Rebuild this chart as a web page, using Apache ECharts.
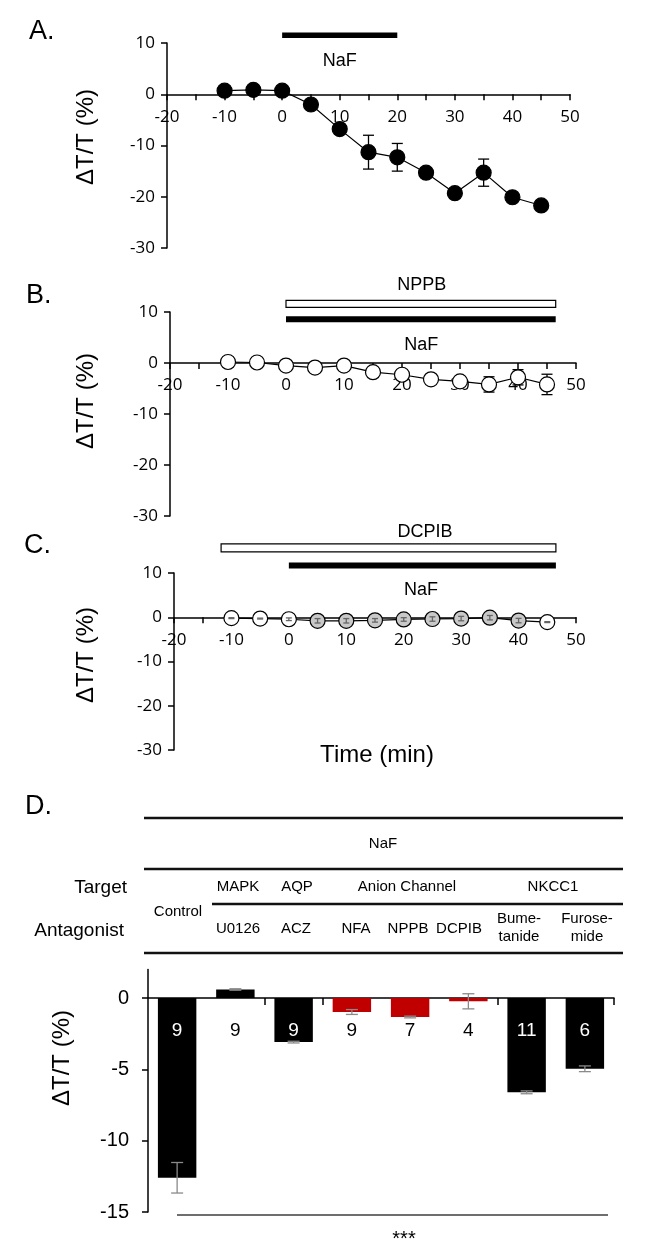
<!DOCTYPE html>
<html>
<head>
<meta charset="utf-8">
<script src="https://cdn.jsdelivr.net/npm/echarts@6/dist/echarts.min.js"></script>
<style>
html, body { margin: 0; padding: 0; background: #fff; }
#chart { width: 646px; height: 1251px; }
</style>
</head>
<body>
<div id="chart"></div>
<script>
/* ----------------- data ----------------- */
// time course (A, B, C)
const timeMin = [-10, -5, 0, 5, 10, 15, 20, 25, 30, 35, 40, 45]
const nafMean = [0.7, 0.85, 0.7, -2.0, -6.8, -11.3, -12.3, -15.3, -19.3, -15.3, -20.1, -21.7]
const nafErr = [0.2, 0.2, 0.2, 0.3, 0.4, 3.3, 2.7, 0.4, 0.4, 2.65, 0.4, 0.4]
const nppbMean = [0.2, 0.1, -0.5, -0.9, -0.5, -1.8, -2.3, -3.2, -3.6, -4.2, -2.8, -4.2]
const nppbErr = [0.2, 0.2, 0.3, 0.3, 0.3, 0.4, 0.4, 0.4, 0.6, 1.5, 1.5, 2.0]
const dcpibMean = [-0.2, -0.3, -0.45, -0.8, -0.8, -0.7, -0.5, -0.4, -0.3, -0.1, -0.75, -1.1]
const dcpibErr = [0.1, 0.1, 0.3, 0.5, 0.5, 0.4, 0.4, 0.5, 0.5, 0.5, 0.5, 0.1]

// drug application periods (min)
const nafPeriodA = [0, 20]
const nafPeriodLong = [0, 46.5]
const nppbPeriod = [0, 46.5]
const dcpibPeriod = [-11.8, 46.5]

// axis ranges / ticks
const timeTicks = [-20, 50, 5]
const pctTicks = [-30, 10, 10]
const barTicks = [-15, -10, -5, 0]

// summary (D)
const antagonists = ['Control', 'U0126', 'ACZ', 'NFA', 'NPPB', 'DCPIB', 'Bumetanide', 'Furosemide']
const deltaT = [-12.6, 0.6, -3.09, -0.98, -1.33, -0.23, -6.61, -4.96]
const deltaErr = [1.07, 0.05, 0.06, 0.17, 0.06, 0.53, 0.1, 0.2]
const nCells = [9, 9, 9, 9, 7, 4, 11, 6]

/* ----------------- styles ----------------- */
const barColors = ['#000', '#000', '#000', '#c00000', '#c00000', '#c00000', '#000', '#000']
const dcpibFill = ['#fff', '#fff', '#fff', '#c8c8c8', '#c8c8c8', '#c8c8c8', '#c8c8c8', '#c8c8c8', '#c8c8c8', '#c8c8c8', '#c8c8c8', '#fff']
const ARIAL = '"Liberation Sans", Arial, sans-serif'
const TICKF = '"Open Sans", sans-serif'
const nLabelY = -2.3

const grids = [
  { left: 167, top: 43, width: 403, height: 205 },
  { left: 170, top: 312, width: 406, height: 204 },
  { left: 174, top: 573, width: 402, height: 177 },
  { left: 148, top: 969.5, width: 466, height: 242.5 }
]

const chart = echarts.init(document.getElementById('chart'), null, { renderer: 'canvas' })

// 时间轴 (x axis sits on y = 0, labels follow it)
const timeAxis = (gi) => ({
  type: 'value', gridIndex: gi, position: 'bottom',
  offset: -grids[gi].height * (0 - pctTicks[0]) / (pctTicks[1] - pctTicks[0]),
  min: timeTicks[0], max: timeTicks[1], interval: timeTicks[2],
  axisLine: { show: true, onZero: false, lineStyle: { color: '#000', width: 1.5 } },
  axisTick: { show: true, inside: false, length: 6, lineStyle: { color: '#000', width: 1.5 } },
  axisLabel: {
    show: true, color: '#000', fontSize: 17, fontFamily: TICKF, margin: 14,
    formatter: (v) => (v % 10 === 0 ? String(v) : '')
  },
  splitLine: { show: false }
})
const pctAxis = (gi) => ({
  type: 'value', gridIndex: gi,
  min: pctTicks[0], max: pctTicks[1], interval: pctTicks[2],
  axisLine: { show: true, onZero: false, lineStyle: { color: '#000', width: 1.5 } },
  axisTick: { show: true, inside: false, length: 6, lineStyle: { color: '#000', width: 1.5 } },
  axisLabel: { color: '#000', fontSize: 17, fontFamily: TICKF, margin: 12 },
  splitLine: { show: false }
})

const lineSeries = (gi, ys, fills) => ({
  type: 'line', xAxisIndex: gi, yAxisIndex: gi, z: 3,
  data: timeMin.map((t, i) => ({ value: [t, ys[i]], itemStyle: { color: fills[i] } })),
  symbol: 'circle', symbolSize: 15,
  lineStyle: { color: '#000', width: 1.2 },
  itemStyle: { borderColor: '#000', borderWidth: 1.2 },
  emphasis: { disabled: true }
})

// 误差线
const errSeries = (gi, xs, ys, es, color, cap, z) => ({
  type: 'custom', xAxisIndex: gi, yAxisIndex: gi, z: z, clip: false, silent: true,
  data: xs.map((x, i) => [x, ys[i], es[i]]),
  renderItem: (params, api) => {
    const x = api.value(0), y = api.value(1), e = api.value(2)
    const hi = api.coord([x, y + e]), lo = api.coord([x, y - e])
    const st = { stroke: color, lineWidth: 1.3 }
    return {
      type: 'group', children: [
        { type: 'line', shape: { x1: hi[0], y1: hi[1], x2: lo[0], y2: lo[1] }, style: st },
        { type: 'line', shape: { x1: hi[0] - cap, y1: hi[1], x2: hi[0] + cap, y2: hi[1] }, style: st },
        { type: 'line', shape: { x1: lo[0] - cap, y1: lo[1], x2: lo[0] + cap, y2: lo[1] }, style: st }
      ]
    }
  }
})

// 给药时段横条
const periodSeries = (gi, period, yv, filled, h) => ({
  type: 'custom', xAxisIndex: gi, yAxisIndex: gi, z: 5, clip: false, silent: true,
  data: [period],
  renderItem: (params, api) => {
    const p0 = api.coord([api.value(0), yv])
    const p1 = api.coord([api.value(1), yv])
    return {
      type: 'rect',
      shape: { x: p0[0], y: p0[1] - h / 2, width: p1[0] - p0[0], height: h },
      style: { fill: filled ? '#000' : '#fff', stroke: '#000', lineWidth: filled ? 0 : 1.2 }
    }
  }
})

const textSeries = (gi, items) => ({
  type: 'custom', xAxisIndex: gi, yAxisIndex: gi, z: 5, clip: false, silent: true,
  data: items.map((d) => [d[1], d[2]]),
  renderItem: (params, api) => {
    const p = api.coord([api.value(0), api.value(1)])
    return {
      type: 'text', x: p[0], y: p[1],
      style: {
        text: items[params.dataIndex][0], fill: '#000', fontSize: 18, fontFamily: ARIAL,
        align: 'center', verticalAlign: 'middle', textAlign: 'center', textVerticalAlign: 'middle'
      }
    }
  }
})

const txt = (text, x, y, size, align, extra) => Object.assign({
  type: 'text', x: x, y: y, silent: true,
  style: {
    text: text, fill: '#000', fontSize: size, fontFamily: ARIAL,
    align: align || 'center', verticalAlign: 'middle',
    textAlign: align || 'center', textVerticalAlign: 'middle'
  }
}, extra || {})
const hline = (x1, x2, y, w, color) => ({
  type: 'line', silent: true,
  shape: { x1: x1, y1: y, x2: x2, y2: y },
  style: { stroke: color || '#111', lineWidth: w || 2.5 }
})

const option = {
  animation: false,
  backgroundColor: '#fff',
  grid: grids.map((g) => Object.assign({ containLabel: false, outerBoundsMode: 'none' }, g)),
  xAxis: [
    timeAxis(0), timeAxis(1), timeAxis(2),
    {
      type: 'category', gridIndex: 3, data: antagonists, boundaryGap: true,
      axisLine: { show: true, onZero: true, lineStyle: { color: '#000', width: 1.5 } },
      axisTick: {
        show: true, inside: false, length: 7, alignWithLabel: false,
        interval: (i) => [2, 3, 6, 8].includes(i),
        lineStyle: { color: '#000', width: 1.5 }
      },
      axisLabel: { show: false },
      splitLine: { show: false }
    }
  ],
  yAxis: [
    pctAxis(0), pctAxis(1), pctAxis(2),
    {
      type: 'value', gridIndex: 3, min: -15, max: 2, interval: 5,
      axisLine: { show: true, onZero: false, lineStyle: { color: '#000', width: 1.5 } },
      axisTick: { show: true, inside: false, length: 6, customValues: barTicks, lineStyle: { color: '#000', width: 1.5 } },
      axisLabel: {
        color: '#000', fontSize: 20, fontFamily: ARIAL, margin: 19, customValues: barTicks,
        formatter: (v) => (v % 5 === 0 ? String(v) : '')
      },
      splitLine: { show: false }
    }
  ],
  series: [
    // A
    errSeries(0, timeMin, nafMean, nafErr, '#000', 5.5, 2),
    lineSeries(0, nafMean, timeMin.map(() => '#000')),
    periodSeries(0, nafPeriodA, 11.5, true, 5.5),
    textSeries(0, [['NaF', 10, 6.4]]),
    // B
    errSeries(1, timeMin, nppbMean, nppbErr, '#000', 5.5, 2),
    lineSeries(1, nppbMean, timeMin.map(() => '#fff')),
    periodSeries(1, nppbPeriod, 11.6, false, 7),
    periodSeries(1, nafPeriodLong, 8.6, true, 6),
    textSeries(1, [['NPPB', 23.4, 15.3], ['NaF', 23.3, 3.5]]),
    // C
    lineSeries(2, dcpibMean, dcpibFill),
    errSeries(2, timeMin, dcpibMean, dcpibErr, '#666', 3, 4),
    periodSeries(2, dcpibPeriod, 15.7, false, 8),
    periodSeries(2, nafPeriodLong, 11.7, true, 6),
    textSeries(2, [['DCPIB', 23.7, 19.3], ['NaF', 23, 6.1]]),
    // D
    {
      type: 'bar', xAxisIndex: 3, yAxisIndex: 3, barWidth: '66%', z: 2,
      data: deltaT.map((v, i) => ({ value: v, itemStyle: { color: barColors[i] } })),
      emphasis: { disabled: true }
    },
    errSeries(3, antagonists.map((d, i) => i), deltaT, deltaErr, '#8a8a8a', 6, 4),
    {
      type: 'custom', xAxisIndex: 3, yAxisIndex: 3, z: 6, clip: false, silent: true,
      data: nCells.map((n, i) => [i, n]),
      renderItem: (params, api) => {
        const i = params.dataIndex
        const p = api.coord([i, nLabelY])
        return {
          type: 'text', x: p[0], y: p[1],
          style: {
            text: String(nCells[i]), fill: deltaT[i] < nLabelY - 0.3 ? '#fff' : '#000',
            fontSize: 19, fontFamily: ARIAL,
            align: 'center', verticalAlign: 'middle', textAlign: 'center', textVerticalAlign: 'middle'
          }
        }
      }
    }
  ],
  graphic: [
    // panel letters
    txt('A.', 29, 32, 27, 'left'),
    txt('B.', 26, 296, 27, 'left'),
    txt('C.', 24, 546, 27, 'left'),
    txt('D.', 25, 807, 27, 'left'),
    // axis names
    txt('ΔT/T (%)', 86, 137, 24, 'center', { rotation: Math.PI / 2 }),
    txt('ΔT/T (%)', 86, 401, 24, 'center', { rotation: Math.PI / 2 }),
    txt('ΔT/T (%)', 86, 655, 24, 'center', { rotation: Math.PI / 2 }),
    txt('ΔT/T (%)', 62, 1058, 24, 'center', { rotation: Math.PI / 2 }),
    txt('Time (min)', 377, 755, 24, 'center'),
    // table of D
    hline(144, 623, 818),
    txt('NaF', 383, 844, 15),
    hline(144, 623, 869),
    txt('Target', 127, 888, 19, 'right'),
    txt('Antagonist', 124, 931, 19, 'right'),
    txt('Control', 178, 912, 15),
    txt('MAPK', 238, 887, 15),
    txt('AQP', 297, 887, 15),
    txt('Anion Channel', 407, 887, 15),
    txt('NKCC1', 553, 887, 15),
    hline(212, 623, 904),
    txt('U0126', 238, 929, 15),
    txt('ACZ', 296, 929, 15),
    txt('NFA', 356, 929, 15),
    txt('NPPB', 408, 929, 15),
    txt('DCPIB', 459, 929, 15),
    txt('Bume-', 519, 919, 15),
    txt('tanide', 519, 937, 15),
    txt('Furose-', 587, 919, 15),
    txt('mide', 587, 937, 15),
    hline(144, 623, 953),
    // significance
    hline(177, 608, 1215, 2, '#6e6e6e'),
    txt('***', 404, 1239, 20, 'center')
  ]
}

chart.setOption(option)
</script>
</body>
</html>
